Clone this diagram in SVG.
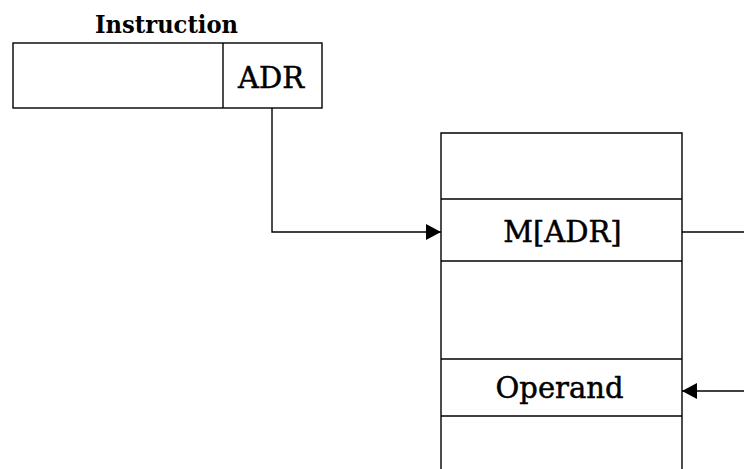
<svg xmlns="http://www.w3.org/2000/svg" width="744" height="469" viewBox="0 0 744 469">
<style>
.box{fill:#fff;stroke:#000;stroke-width:1.4}
.ln{fill:none;stroke:#000;stroke-width:1.4}
.t{font-family:"DejaVu Serif","Liberation Serif",serif;font-size:29px;fill:#000;stroke:#000;stroke-width:0.5;text-anchor:middle}
.b{font-family:"DejaVu Serif","Liberation Serif",serif;font-size:24px;font-weight:bold;fill:#000;text-anchor:middle}
</style>
<defs>
<marker id="arr" markerUnits="userSpaceOnUse" markerWidth="16" markerHeight="16" refX="15" refY="8" orient="auto">
<path d="M0,0 L15,8 L0,16 Z" fill="#000"/>
</marker>
</defs>
<g id="instruction">
<text class="b" x="166.5" y="33" textLength="143" lengthAdjust="spacingAndGlyphs">Instruction</text>
<rect class="box" x="13" y="43" width="309" height="65"/>
<line class="ln" x1="223" y1="43" x2="223" y2="108"/>
<text class="t" x="271" y="88">ADR</text>
</g>
<g id="memory">
<path class="ln" d="M441,469 V133 H682 V469"/>
<line class="ln" x1="441" y1="199" x2="682" y2="199"/>
<line class="ln" x1="441" y1="261" x2="682" y2="261"/>
<line class="ln" x1="441" y1="359" x2="682" y2="359"/>
<line class="ln" x1="441" y1="416" x2="682" y2="416"/>
<text class="t" x="562.5" y="242">M[ADR]</text>
<text class="t" x="559.5" y="398">Operand</text>
</g>
<g id="connectors">
<path class="ln" d="M272,108 V232 H441" marker-end="url(#arr)"/>
<path class="ln" d="M682,232 H744"/>
<path class="ln" d="M744,391 H682" marker-end="url(#arr)"/>
</g>
</svg>
